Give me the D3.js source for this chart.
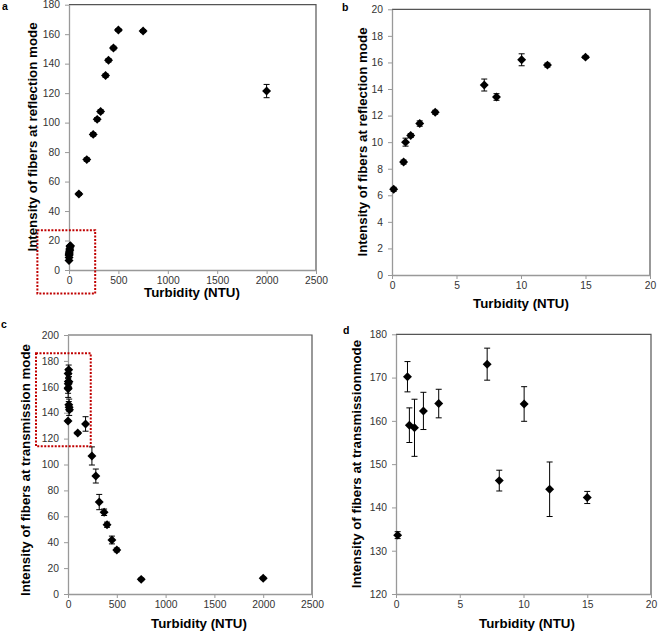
<!DOCTYPE html>
<html>
<head>
<meta charset="utf-8">
<script src="https://cdn.jsdelivr.net/npm/d3@7"></script>
<style>
  body { margin: 0; background: #fff; }
  svg { display: block; font-family: 'Liberation Sans', Arial, sans-serif; }
  .tick text { fill: #333; font-size: 10.3px; }
  .title { font-weight: bold; font-size: 13.3px; fill: #000; }
  .letter { font-weight: bold; font-size: 10.5px; fill: #000; }
</style>
</head>
<body>
<script>
// turbidity values (NTU)
const lowNTU = [0.13, 0.9, 1.05, 1.45, 2.15, 3.35, 7.15, 8.1, 10.05, 12.05, 15]
const highNTU = [100, 180, 245, 285, 320, 370, 400, 450, 500, 750, 2000]

// reflection mode intensity
const lowReflection = [6.45, 8.5, 10.0, 10.5, 11.4, 12.25, 14.3, 13.4, 16.2, 15.8, 16.4]
const lowReflectionErr = [0.15, 0.15, 0.3, 0.15, 0.2, 0.15, 0.45, 0.25, 0.45, 0.15, 0.1]
const highReflection = [51.6, 74.9, 92.0, 102.2, 107.6, 131.9, 142.3, 150.6, 162.8, 162.1, 121.4]
const highReflectionErr = [1, 1.2, 1.2, 1.2, 1.2, 1.2, 1.2, 1.2, 1, 1, 4.5]

// transmission mode intensity
const lowTransmission = [133.6, 170.2, 159.0, 158.4, 162.3, 164.0, 173.1, 146.2, 163.9, 144.2, 142.3]
const lowTransmissionErr = [0.8, 3.5, 4.0, 6.6, 4.3, 3.3, 3.7, 2.4, 4.0, 6.3, 1.4]
const highTransmission = [124.3, 131.3, 106.6, 91.1, 71.0, 63.1, 53.5, 41.7, 34.0, 11.3, 12.1]
const highTransmissionErr = [1, 5.6, 7, 5.4, 5.9, 2.5, 2, 3, 1.5, 1, 1]

// ticks
const xTicksWide = [0, 500, 1000, 1500, 2000, 2500]
const xTicksNarrow = [0, 5, 10, 15, 20]
const yTicksA = [0, 20, 40, 60, 80, 100, 120, 140, 160, 180]
const yTicksB = [0, 2, 4, 6, 8, 10, 12, 14, 16, 18, 20]
const yTicksC = [0, 20, 40, 60, 80, 100, 120, 140, 160, 180, 200]
const yTicksD = [120, 130, 140, 150, 160, 170, 180]

// zoom boxes (data units) marking the low turbidity region
const boxA = [[-320, 27], [265, -16]]
const boxC = [[-328, 186], [233, 114]]

const width = 658, height = 632
const svg = d3.select('body').append('svg')
    .attr('width', width)
    .attr('height', height)

const diamond = {
  draw(context, size) {
    const r = Math.sqrt(size / 2)
    context.moveTo(0, -r)
    context.lineTo(r, 0)
    context.lineTo(0, r)
    context.lineTo(-r, 0)
    context.closePath()
  }
}

const rows = (xs, ys, es) => xs.map((x, i) => ({x: x, y: ys[i], e: es[i]}))
const fmt = d3.format('d')

const panels = [
  {letter: 'a', lx: 2, ly: 10, left: 69, right: 316, top: 4.7, bottom: 270,
   xDomain: [0, 2500], xTicks: xTicksWide, yDomain: [0, 180], yTicks: yTicksA,
   data: rows(lowNTU, lowReflection, lowReflectionErr).concat(rows(highNTU, highReflection, highReflectionErr)),
   yTitle: 'Intensity of fibers at reflection mode', ytx: 37, yty: 137, xtx: 192, xty: 297, box: boxA},
  {letter: 'b', lx: 342, ly: 10.5, left: 392, right: 650, top: 9.3, bottom: 275,
   xDomain: [0, 20], xTicks: xTicksNarrow, yDomain: [0, 20], yTicks: yTicksB,
   data: rows(lowNTU, lowReflection, lowReflectionErr),
   yTitle: 'Intensity of fibers at reflection mode', ytx: 367, yty: 142, xtx: 521, xty: 308},
  {letter: 'c', lx: 1, ly: 328, left: 68, right: 312, top: 335, bottom: 594,
   xDomain: [0, 2500], xTicks: xTicksWide, yDomain: [0, 200], yTicks: yTicksC,
   data: rows(lowNTU, lowTransmission, lowTransmissionErr).concat(rows(highNTU, highTransmission, highTransmissionErr)),
   yTitle: 'Intensity of fibers at transmission mode', ytx: 30, yty: 470, xtx: 199, xty: 628, box: boxC},
  {letter: 'd', lx: 343, ly: 334, left: 396, right: 651, top: 334.3, bottom: 594,
   xDomain: [0, 20], xTicks: xTicksNarrow, yDomain: [120, 180], yTicks: yTicksD,
   data: rows(lowNTU, lowTransmission, lowTransmissionErr),
   yTitle: 'Intensity of fibers at transmissionmode', ytx: 361, yty: 464, xtx: 527, xty: 628}
]

panels.forEach(function(p) {
  const x = d3.scaleLinear().domain(p.xDomain).range([p.left, p.right])
  const y = d3.scaleLinear().domain(p.yDomain).range([p.bottom, p.top])
  const g = svg.append('g')

  // plot area border (top and right)
  g.append('path')
      .attr('d', 'M' + p.left + ',' + p.top + 'H' + p.right + 'V' + p.bottom)
      .attr('fill', 'none')
      .attr('stroke', '#555')
      .attr('stroke-width', 1.2)

  const xAxis = g.append('g')
      .attr('transform', 'translate(0,' + p.bottom + ')')
      .call(d3.axisBottom(x).tickValues(p.xTicks).tickFormat(fmt).tickSize(4).tickSizeOuter(0).tickPadding(3))
  const yAxis = g.append('g')
      .attr('transform', 'translate(' + p.left + ',0)')
      .call(d3.axisLeft(y).tickValues(p.yTicks).tickFormat(fmt).tickSize(4).tickSizeOuter(0).tickPadding(5))
  ;[xAxis, yAxis].forEach(function(ax) {
    ax.attr('font-size', null).attr('font-family', null)
    ax.select('.domain').attr('stroke', '#999').attr('stroke-width', 1.3)
    ax.selectAll('.tick line').attr('stroke', '#999')
  })

  // error bars
  const eb = g.append('g').attr('stroke', '#000').attr('stroke-width', 1)
  eb.selectAll('path')
    .data(p.data.filter(d => d.e > 0))
    .enter().append('path')
      .attr('fill', 'none')
      .attr('d', function(d) {
        const cx = x(d.x), y0 = y(d.y - d.e), y1 = y(d.y + d.e)
        return 'M' + cx + ',' + y0 + 'V' + y1 +
          'M' + (cx - 3) + ',' + y0 + 'H' + (cx + 3) +
          'M' + (cx - 3) + ',' + y1 + 'H' + (cx + 3)
      })

  // markers
  g.selectAll('.pt')
    .data(p.data)
    .enter().append('path')
      .attr('class', 'pt')
      .attr('transform', d => 'translate(' + x(d.x) + ',' + y(d.y) + ')')
      .attr('d', d3.symbol().type(diamond).size(40))
      .attr('fill', '#000')

  if (p.box) {
    g.append('rect')
        .attr('x', x(p.box[0][0]))
        .attr('y', y(p.box[0][1]))
        .attr('width', x(p.box[1][0]) - x(p.box[0][0]))
        .attr('height', y(p.box[1][1]) - y(p.box[0][1]))
        .attr('fill', 'none')
        .attr('stroke', '#c00000')
        .attr('stroke-width', 2)
        .attr('stroke-dasharray', '2,1.5')
  }

  g.append('text')
      .attr('class', 'title')
      .attr('text-anchor', 'middle')
      .attr('x', p.xtx)
      .attr('y', p.xty)
      .text('Turbidity (NTU)')

  g.append('text')
      .attr('class', 'title')
      .attr('text-anchor', 'middle')
      .attr('transform', 'translate(' + p.ytx + ',' + p.yty + ') rotate(-90)')
      .text(p.yTitle)

  g.append('text')
      .attr('class', 'letter')
      .attr('x', p.lx)
      .attr('y', p.ly)
      .text(p.letter)
})
</script>
</body>
</html>
